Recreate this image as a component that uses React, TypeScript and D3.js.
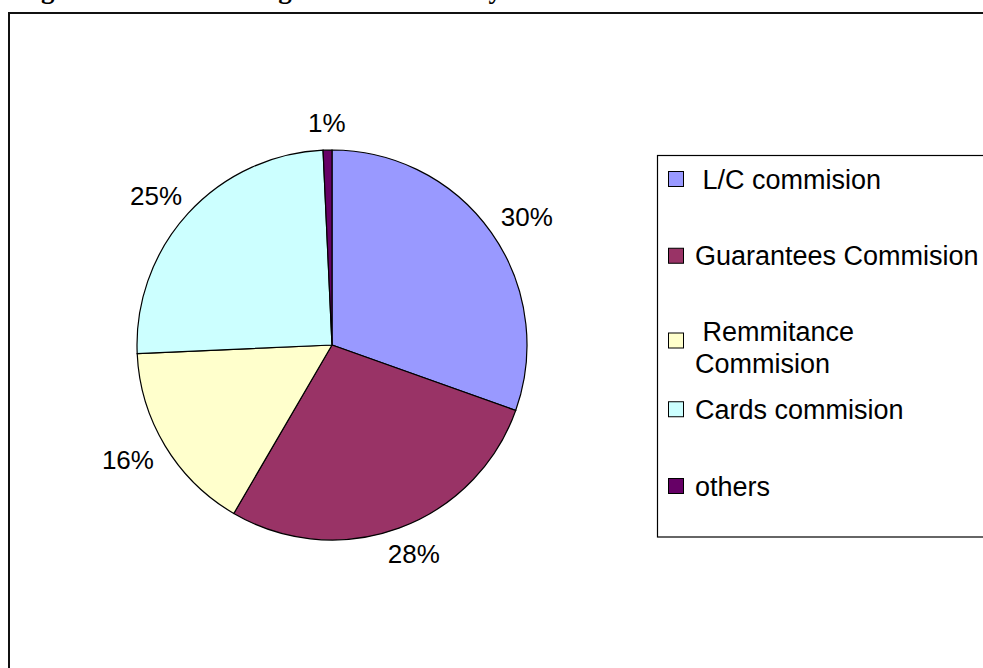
import React from "react";
import * as d3 from "d3";

const width = 983;
const height = 668;
const centerX = 332;
const centerY = 345;
const radius = 195;

// share of commission income by type
const categories = [" L/C commision", "Guarantees Commision", " Remmitance\nCommision", "Cards commision", "others"];
const shares = [30.45, 27.95, 15.9, 24.97, 0.73];
const colors = ["#9999FF", "#993366", "#FFFFCC", "#CCFFFF", "#660066"];

const title = "Figure 2: Bank Earnings from Services by Source";

const labelFont = 26;
const legendFont = 27;

function App() {
    const total = d3.sum(shares);
    const pct = d3.format(".0%");

    const arcs = d3.pie<number>().sort(null).value(d => d)(shares);
    const pieArc = d3.arc<d3.PieArcDatum<number>>().innerRadius(0).outerRadius(radius);

    // labels sit just outside the rim, pushed out by half their box
    const labelR = radius + 17.7;
    const halfH = labelFont * 0.36;

    const legendY = d3.scalePoint<number>()
        .domain(d3.range(categories.length))
        .range([179, 486]);

    return (
        <svg width={width} height={height} style={{position: "absolute", left: 0, top: 0}}
             fontFamily="'Liberation Sans', Arial, sans-serif">
            <text x={17} y={-2.5} fontFamily="'Liberation Serif', 'Times New Roman', serif"
                  fontWeight="bold" fontSize={27}>{title}</text>

            <rect x={9} y={13} width={1000} height={700} fill="white" stroke="#111" strokeWidth={2}/>

            <g transform={`translate(${centerX},${centerY})`}>
                {arcs.map((d, i) => (
                    <path key={i} d={pieArc(d) || ""} fill={colors[i]} stroke="#000" strokeWidth={1.2}/>
                ))}
                {arcs.map((d, i) => {
                    const a = (d.startAngle + d.endAngle) / 2;
                    const s = Math.sin(a);
                    const c = -Math.cos(a);
                    const txt = pct(d.value / total);
                    const halfW = txt.length * labelFont * 0.33;
                    const x = labelR * s + s * halfW;
                    const y = labelR * c + c * halfH;
                    return (
                        <text key={i} x={x} y={y} dy="0.36em" textAnchor="middle" fontSize={labelFont}>{txt}</text>
                    );
                })}
            </g>

            <rect x={657.5} y={155.5} width={400} height={381.5} fill="white" stroke="#000" strokeWidth={1.2}/>
            {categories.map((name, i) => {
                const y = legendY(i) as number;
                const lines = name.split("\n");
                const multi = lines.length > 1;
                const first = multi ? y - 1 : y;
                const boxY = multi ? y + 8 : y;
                return (
                    <g key={i}>
                        <rect x={668.5} y={boxY - 7.5} width={15} height={15} fill={colors[i]} stroke="#000" strokeWidth={1}/>
                        <text x={695} y={first} fontSize={legendFont} style={{whiteSpace: "pre"}}>
                            {lines.map((ln, j) => (
                                <tspan key={j} x={695} dy={j === 0 ? "0.36em" : "1.17em"}>{ln}</tspan>
                            ))}
                        </text>
                    </g>
                );
            })}
        </svg>
    );
}

export default App;
